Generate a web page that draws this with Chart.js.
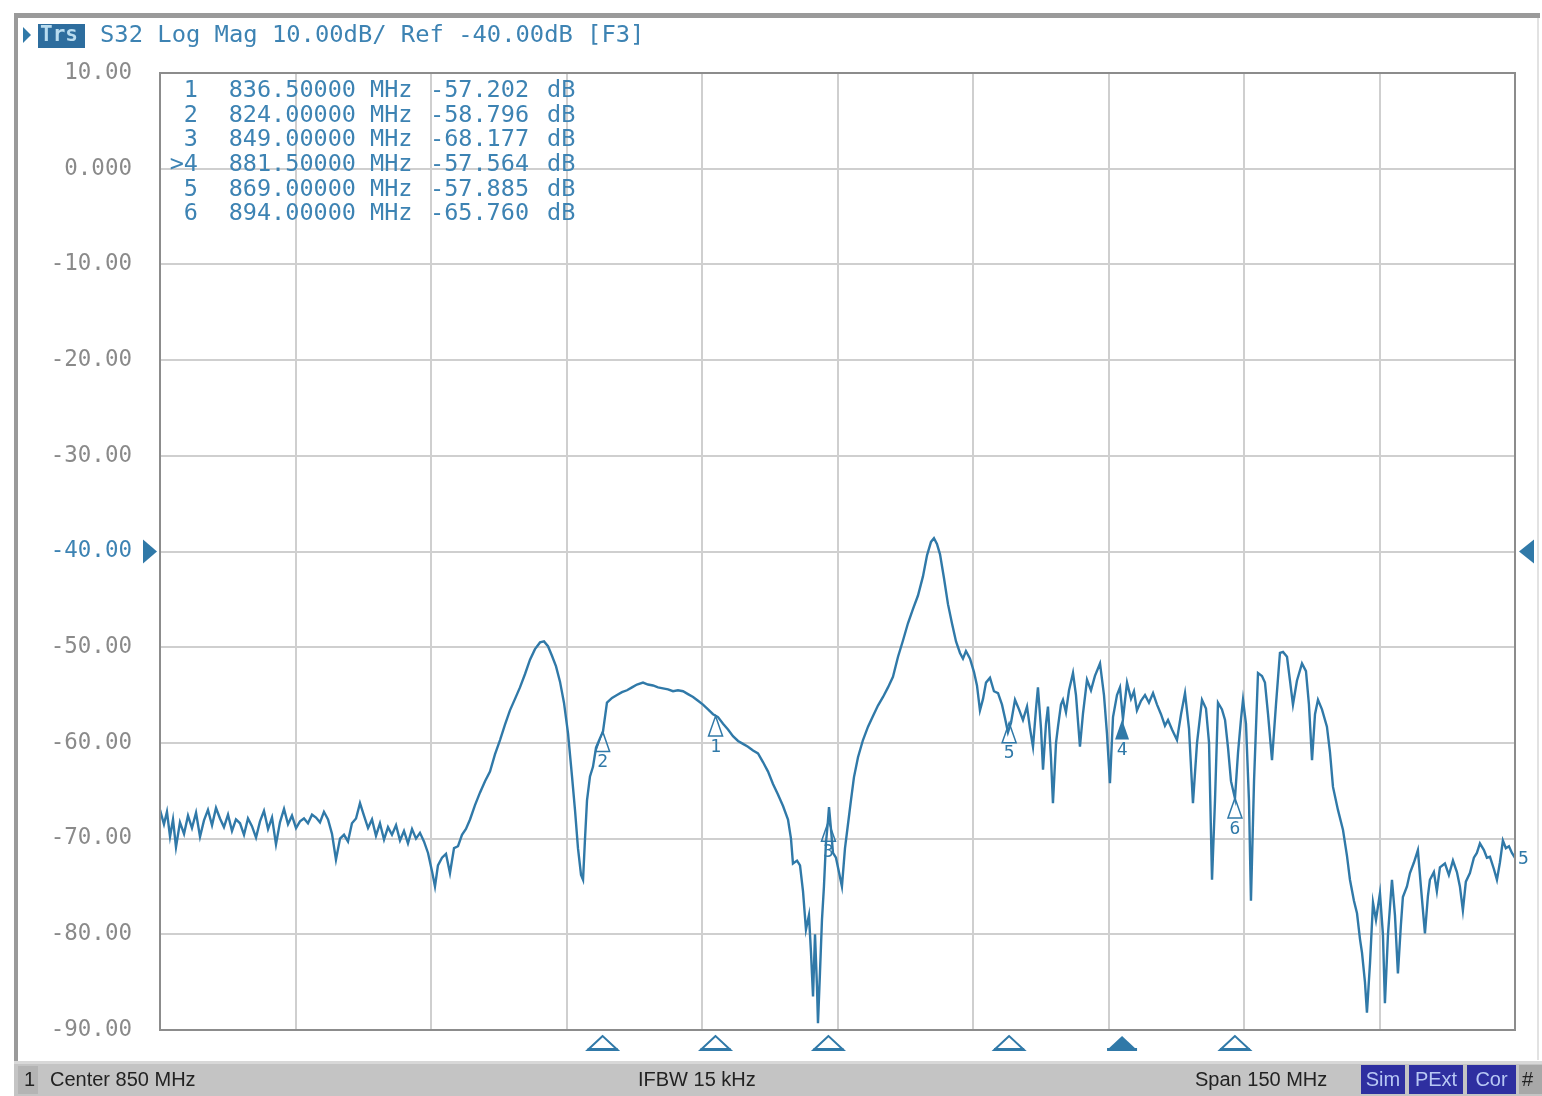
<!DOCTYPE html>
<html>
<head>
<meta charset="utf-8">
<script src="https://cdn.jsdelivr.net/npm/chart.js@4"></script>
<style>
  html, body { margin: 0; padding: 0; background: #fff; }
  canvas { display: block; }
</style>
</head>
<body>
<canvas id="c" width="1542" height="1096"></canvas>
<script>
"use strict";
// S32 sweep (MHz / dB)
const freqMHz = [
  775.00,775.44,775.77,776.11,776.44,776.77,777.21,777.66,778.10,778.54,778.99,779.43,779.87,780.31,780.76,781.20,
  781.64,782.08,782.53,782.97,783.41,783.86,784.30,784.74,785.18,785.63,786.07,786.51,786.96,787.40,787.84,788.28,
  788.73,789.17,789.61,790.06,790.50,790.94,791.38,791.83,792.27,792.71,793.15,793.60,794.04,794.48,794.93,795.37,
  795.81,796.25,796.70,797.14,797.58,798.03,798.47,798.91,799.35,799.80,800.24,800.68,801.13,801.57,802.01,802.45,
  802.90,803.34,803.78,804.22,804.67,805.11,805.44,805.77,806.22,806.66,807.10,807.55,807.99,808.43,808.87,809.32,
  809.87,810.42,810.98,811.53,812.08,812.64,813.19,813.74,814.30,814.85,815.41,815.96,816.51,817.07,817.51,817.95,
  818.39,818.84,819.28,819.72,820.17,820.61,820.94,821.27,821.61,821.83,822.05,822.27,822.60,822.93,823.27,823.71,
  824.04,824.48,825.04,825.59,826.14,826.70,827.25,827.80,828.47,829.02,829.58,830.13,830.68,831.24,831.79,832.34,
  832.90,833.45,834.01,834.56,835.11,835.67,836.22,836.77,837.33,837.88,838.43,838.99,839.54,840.09,840.65,841.20,
  841.75,842.31,842.86,843.41,843.97,844.52,844.85,845.07,845.52,845.85,846.18,846.51,846.84,847.07,847.29,847.51,
  847.73,847.84,848.06,848.28,848.50,848.72,848.94,849.06,849.28,849.50,849.83,850.16,850.49,850.83,851.16,851.49,
  851.82,852.27,852.82,853.38,853.93,854.48,855.04,855.59,856.14,856.70,857.25,857.80,858.36,858.91,859.46,859.91,
  860.35,860.68,861.01,861.35,861.79,862.23,862.67,863.12,863.56,863.89,864.22,864.67,865.11,865.44,865.77,866.11,
  866.44,866.88,867.32,867.77,868.21,868.54,868.87,869.21,869.65,870.09,870.53,870.98,871.31,871.64,871.97,872.19,
  872.53,872.75,873.08,873.30,873.63,873.85,874.19,874.41,874.74,874.96,875.29,875.63,876.07,876.40,876.84,877.17,
  877.62,878.06,878.50,879.06,879.50,879.83,880.16,880.50,880.94,881.27,881.60,882.05,882.49,882.82,883.15,883.60,
  884.04,884.48,884.93,885.37,885.81,886.25,886.59,887.03,887.58,888.03,888.47,888.91,889.35,889.80,890.35,890.79,
  891.13,891.46,891.79,892.12,892.56,892.90,893.23,893.56,894.00,894.34,894.67,894.89,895.22,895.55,895.77,896.11,
  896.55,896.99,897.32,897.66,898.10,898.54,898.98,899.32,899.76,900.09,900.42,900.86,901.42,901.86,902.19,902.53,
  902.86,903.19,903.63,904.18,904.52,904.85,905.40,905.96,906.40,906.73,907.17,907.51,907.84,908.06,908.39,908.61,
  908.95,909.28,909.61,910.05,910.38,910.60,910.94,911.38,911.71,912.04,912.37,912.59,913.04,913.37,913.81,914.25,
  914.58,915.03,915.36,915.58,916.02,916.35,916.69,917.24,917.68,918.13,918.57,918.90,919.23,919.56,920.01,920.45,
  920.78,921.12,921.56,921.89,922.23,922.67,923.00,923.33,923.66,923.99,924.33,924.66,925.00
];
const s32dB = [
  -67.0,-68.5,-67.2,-69.8,-68.0,-70.9,-68.3,-69.5,-67.6,-68.9,-67.3,-69.8,-68.1,-67.0,-68.6,-66.8,
  -67.9,-68.8,-67.5,-69.2,-68.0,-68.4,-69.6,-67.9,-68.7,-69.9,-68.2,-67.1,-69.0,-67.8,-70.6,-68.3,
  -66.9,-68.5,-67.6,-68.9,-68.2,-67.9,-68.4,-67.5,-67.8,-68.3,-67.2,-68.0,-69.5,-72.2,-70.0,-69.6,
  -70.3,-68.4,-67.9,-66.3,-67.6,-68.9,-68.0,-69.7,-68.4,-70.1,-68.8,-69.6,-68.6,-70.2,-69.2,-70.5,
  -69.0,-70.0,-69.4,-70.3,-71.5,-73.4,-75.0,-72.8,-72.0,-71.6,-73.6,-71.0,-70.8,-69.6,-69.0,-68.0,
  -66.5,-65.2,-64.0,-63.0,-61.2,-59.7,-58.1,-56.6,-55.4,-54.2,-52.8,-51.3,-50.2,-49.5,-49.4,-49.9,
  -50.9,-52.0,-53.6,-55.8,-59.0,-63.5,-67.0,-71.0,-73.8,-74.3,-70.0,-66.0,-63.5,-62.5,-60.5,-59.5,
  -58.8,-55.8,-55.3,-55.0,-54.7,-54.5,-54.2,-53.9,-53.7,-53.9,-54.0,-54.2,-54.3,-54.4,-54.6,-54.5,
  -54.6,-54.9,-55.2,-55.6,-56.0,-56.5,-57.0,-57.3,-58.0,-58.6,-59.3,-59.8,-60.1,-60.4,-60.8,-61.1,
  -62.0,-63.0,-64.3,-65.4,-66.6,-68.0,-70.0,-72.6,-72.3,-72.8,-75.5,-79.5,-78.0,-82.0,-86.5,-80.0,
  -85.5,-89.3,-84.0,-78.5,-75.0,-70.5,-68.2,-66.7,-69.0,-71.5,-72.0,-73.5,-75.0,-71.0,-68.5,-66.0,
  -63.6,-61.5,-59.7,-58.3,-57.2,-56.1,-55.2,-54.2,-53.1,-51.0,-49.3,-47.5,-46.0,-44.6,-42.6,-40.4,
  -39.0,-38.6,-39.2,-40.3,-42.8,-45.5,-47.5,-49.4,-50.6,-51.2,-50.4,-51.2,-52.6,-54.0,-56.6,-55.4,
  -53.7,-53.2,-54.6,-54.8,-56.0,-57.4,-58.9,-57.9,-55.5,-56.5,-57.6,-56.2,-58.5,-60.4,-56.5,-54.2,
  -58.5,-62.8,-58.0,-56.2,-61.5,-66.3,-60.0,-58.3,-56.0,-55.5,-56.8,-54.5,-52.7,-55.0,-60.4,-57.0,
  -53.4,-54.5,-53.0,-51.7,-55.0,-59.0,-64.2,-57.3,-55.0,-54.2,-57.5,-53.7,-55.4,-54.6,-56.6,-55.6,
  -55.0,-55.8,-54.8,-56.0,-57.0,-58.2,-57.6,-58.6,-59.7,-57.0,-54.8,-58.5,-66.3,-60.0,-55.5,-56.4,
  -60.0,-74.3,-66.0,-55.8,-56.5,-57.6,-60.5,-64.0,-65.8,-61.0,-57.5,-55.5,-58.0,-66.0,-76.5,-64.0,
  -52.7,-53.0,-53.7,-57.0,-61.8,-56.0,-50.6,-50.5,-51.0,-53.5,-56.0,-53.5,-51.7,-52.5,-56.0,-61.8,
  -57.0,-55.5,-56.5,-58.3,-61.0,-64.6,-67.0,-69.1,-71.8,-74.3,-76.5,-77.8,-80.5,-81.9,-85.0,-88.2,
  -83.0,-76.7,-78.5,-75.7,-80.0,-87.2,-80.0,-74.3,-78.0,-84.1,-79.0,-76.1,-75.0,-73.6,-72.5,-71.2,
  -75.0,-79.9,-76.0,-74.3,-73.5,-75.5,-73.0,-72.6,-73.8,-72.3,-73.5,-75.0,-77.5,-74.5,-73.6,-72.0,
  -71.5,-70.5,-71.2,-72.0,-71.9,-73.2,-74.3,-72.5,-70.2,-71.0,-70.8,-71.5,-72.0
];

const markerNo  = [1, 2, 3, 4, 5, 6];
const markerMHz = [836.5, 824.0, 849.0, 881.5, 869.0, 894.0];
const markerDb  = [-57.202, -58.796, -68.177, -57.564, -57.885, -65.760];
const activeMarker = 4;

const xGridMHz = [775, 790, 805, 820, 835, 850, 865, 880, 895, 910, 925];
const yMin = -90, yMax = 10, yStep = 10, refLevel = -40;

const traceTitle = "S32 Log Mag 10.00dB/ Ref -40.00dB [F3]";
const statusLeft = "Center 850 MHz", statusMid = "IFBW 15 kHz", statusRight = "Span 150 MHz";
const statusFlags = ["Sim", "PExt", "Cor"];

const BLUE = "#3079a8", TXT = "#3d83b3", GRID = "#cfcfcf", FRAME = "#9a9a9a";
const MONO = "'DejaVu Sans Mono', 'Liberation Mono', monospace";

function tri(ctx, x, yTop, h, w, fill){
  ctx.beginPath();
  ctx.moveTo(x, yTop); ctx.lineTo(x - w, yTop + h); ctx.lineTo(x + w, yTop + h); ctx.closePath();
  if(fill){ ctx.fill(); } else { ctx.stroke(); }
}

const screen = {
  id: "screen",
  beforeDraw(chart){
    const ctx = chart.ctx;
    ctx.save();
    ctx.fillStyle = "#fff"; ctx.fillRect(0, 0, chart.width, chart.height);
    ctx.restore();
  },
  afterDraw(chart){
    const ctx = chart.ctx, a = chart.chartArea, xs = chart.scales.x, ys = chart.scales.y;
    ctx.save();
    // plot frame
    ctx.strokeStyle = "#8c8c8c"; ctx.lineWidth = 2;
    ctx.strokeRect(a.left, a.top, a.right - a.left, a.bottom - a.top);
    // outer window frame
    ctx.fillStyle = FRAME;
    ctx.fillRect(14, 13, 1526, 5);
    ctx.fillRect(14, 13, 4, 1050);
    ctx.fillStyle = "#e2e2e2";
    ctx.fillRect(1537, 18, 2, 1042);

    // title line
    ctx.fillStyle = BLUE;
    ctx.beginPath(); ctx.moveTo(23, 27); ctx.lineTo(31, 35); ctx.lineTo(23, 43); ctx.closePath(); ctx.fill();
    ctx.fillStyle = "#2d6d9e"; ctx.fillRect(38, 24, 47, 24);
    ctx.font = "bold 21px " + MONO; ctx.textBaseline = "middle"; ctx.textAlign = "left";
    ctx.fillStyle = "#b9dcef"; ctx.fillText("Trs", 40, 36);
    ctx.font = "23.8px " + MONO; ctx.fillStyle = TXT;
    ctx.fillText(traceTitle, 100, 36);

    // marker table
    ctx.font = "23.5px " + MONO; ctx.fillStyle = TXT;
    markerNo.forEach((n, i) => {
      const y = 91 + i * 24.6;
      ctx.textAlign = "right";
      ctx.fillText((n === activeMarker ? ">" : "") + n, 198, y);
      ctx.fillText(markerMHz[i].toFixed(5), 356, y);
      ctx.textAlign = "left";
      ctx.fillText("MHz", 370, y);
      ctx.fillText(markerDb[i].toFixed(3), 430, y);
      ctx.fillText("dB", 547, y);
    });

    // markers on trace
    ctx.strokeStyle = BLUE; ctx.fillStyle = BLUE; ctx.lineWidth = 1.5;
    ctx.font = "18px " + MONO; ctx.textAlign = "center"; ctx.textBaseline = "top";
    markerMHz.forEach((f, i) => {
      const x = xs.getPixelForValue(f), y = ys.getPixelForValue(markerDb[i]);
      tri(ctx, x, y, 20, 7, markerNo[i] === activeMarker);
      ctx.fillText(String(markerNo[i]), x, y + 22);
    });
    // marker flags under the grid
    ctx.lineWidth = 2;
    markerMHz.forEach((f, i) => {
      const x = xs.getPixelForValue(f);
      tri(ctx, x, a.bottom + 6, 14, 15, markerNo[i] === activeMarker);
      ctx.fillRect(x - 15, a.bottom + 18, 30, 3);
    });
    // label at trace end
    ctx.textAlign = "left"; ctx.textBaseline = "middle"; ctx.font = "18px " + MONO;
    ctx.fillText("5", a.right + 3, ys.getPixelForValue(s32dB[s32dB.length - 1]) + 2);

    // reference level arrows
    const yr = ys.getPixelForValue(refLevel);
    ctx.beginPath(); ctx.moveTo(143, yr - 12); ctx.lineTo(157, yr); ctx.lineTo(143, yr + 12); ctx.closePath(); ctx.fill();
    ctx.beginPath(); ctx.moveTo(1534, yr - 12); ctx.lineTo(1519, yr); ctx.lineTo(1534, yr + 12); ctx.closePath(); ctx.fill();

    // status bar
    ctx.fillStyle = "#c4c4c4"; ctx.fillRect(14, 1061, 1528, 35);
    ctx.fillStyle = "#d8d8d8"; ctx.fillRect(14, 1061, 1528, 3);
    ctx.fillStyle = "#b4b4b4"; ctx.fillRect(18, 1066, 20, 28);
    ctx.fillStyle = "#222"; ctx.font = "20px 'Liberation Sans', Arial, sans-serif";
    ctx.textBaseline = "middle"; ctx.textAlign = "left";
    ctx.fillText("1", 24, 1080);
    ctx.fillText(statusLeft, 50, 1080);
    ctx.fillText(statusMid, 638, 1080);
    ctx.fillText(statusRight, 1195, 1080);
    const boxes = [[1361, 44], [1409, 54], [1467, 49]];
    statusFlags.forEach((s, i) => {
      ctx.fillStyle = "#2e2fa0"; ctx.fillRect(boxes[i][0], 1065, boxes[i][1], 29);
      ctx.fillStyle = "#b8c8f4"; ctx.textAlign = "center";
      ctx.fillText(s, boxes[i][0] + boxes[i][1] / 2, 1080);
    });
    ctx.fillStyle = "#a8a8a8"; ctx.fillRect(1519, 1065, 23, 29);
    ctx.fillStyle = "#222"; ctx.textAlign = "left"; ctx.fillText("#", 1522, 1080);
    ctx.restore();
  }
};

new Chart(document.getElementById("c"), {
  type: "line",
  data: { datasets: [{
    data: freqMHz.map((f, i) => ({ x: f, y: s32dB[i] })),
    borderColor: BLUE, borderWidth: 2.4, pointRadius: 0, tension: 0, fill: false
  }]},
  options: {
    responsive: false, animation: false, events: [],
    layout: { padding: { top: 73, right: 27, bottom: 66, left: 0 } },
    plugins: { legend: { display: false }, tooltip: { enabled: false } },
    scales: {
      x: {
        type: "linear", min: xGridMHz[0], max: xGridMHz[xGridMHz.length - 1],
        afterBuildTicks: s => { s.ticks = xGridMHz.map(v => ({ value: v })); },
        afterFit: s => { s.height = 0; },
        ticks: { display: false },
        grid: { color: GRID, lineWidth: 2, drawTicks: false },
        border: { color: "#8c8c8c", width: 2 }
      },
      y: {
        min: yMin, max: yMax,
        afterFit: s => { s.width = 160; },
        ticks: {
          stepSize: yStep, padding: 28,
          font: { family: "DejaVu Sans Mono", size: 22.5 },
          color: c => c.tick && c.tick.value === refLevel ? TXT : "#8a8a8a",
          callback: v => v === 0 ? "0.000" : v.toFixed(2)
        },
        grid: { color: GRID, lineWidth: 2, drawTicks: false },
        border: { color: "#8c8c8c", width: 2 }
      }
    }
  },
  plugins: [screen]
});
</script>
</body>
</html>
